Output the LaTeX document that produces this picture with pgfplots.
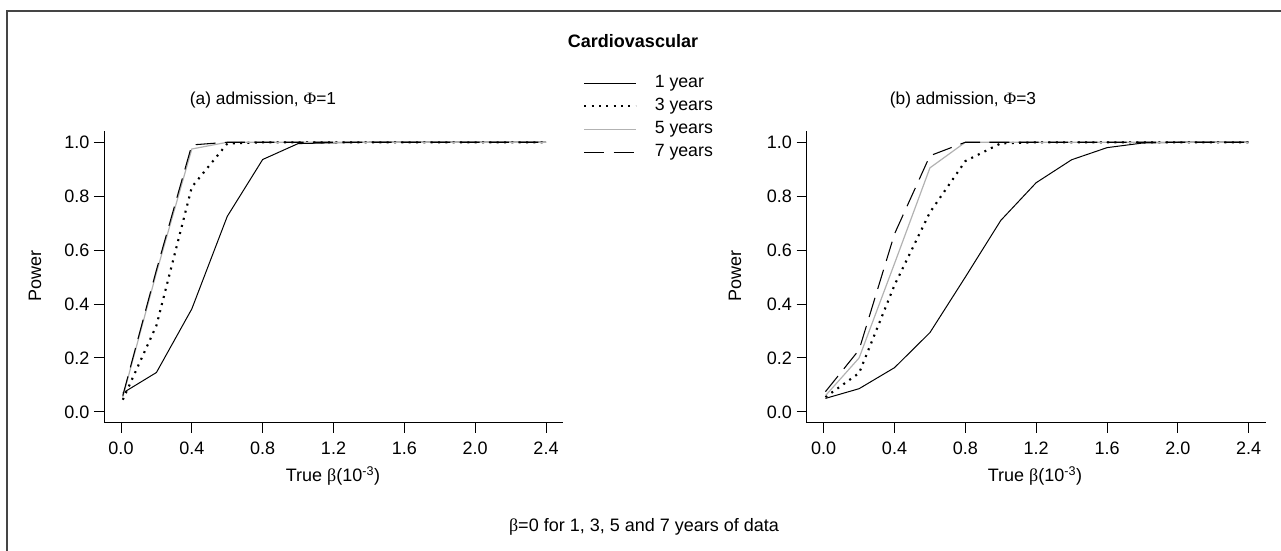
\documentclass[border=0pt]{standalone}
\usepackage{fontspec}
\setmainfont{Liberation Sans}
\newfontfamily\symfont{Liberation Serif}
\usepackage{pgfplots}
\pgfplotsset{compat=1.18}
\usepackage{pgfplotstable}

\pgfplotstableread{
x    y1     y3     y5     y7
0.01 0.070  0.045  0.055  0.060
0.2  0.146  0.320  0.516  0.526
0.4  0.382  0.834  0.975  0.990
0.6  0.725  0.995  1.000  1.000
0.8  0.936  1.000  1.000  1.000
1.0  0.995  1.000  1.000  1.000
1.2  0.998  1.000  1.000  1.000
1.4  1.000  1.000  1.000  1.000
1.6  1.000  1.000  1.000  1.000
1.8  1.000  1.000  1.000  1.000
2.0  1.000  1.000  1.000  1.000
2.2  1.000  1.000  1.000  1.000
2.4  1.000  1.000  1.000  1.000
}\dataA

\pgfplotstableread{
x    y1     y3     y5     y7
0.01 0.050  0.055  0.060  0.075
0.2  0.086  0.144  0.200  0.230
0.4  0.164  0.470  0.550  0.660
0.6  0.294  0.740  0.905  0.950
0.8  0.500  0.930  1.000  1.000
1.0  0.710  0.996  1.000  1.000
1.2  0.850  1.000  1.000  1.000
1.4  0.935  1.000  1.000  1.000
1.6  0.980  1.000  1.000  1.000
1.8  0.997  1.000  1.000  1.000
2.0  1.000  1.000  1.000  1.000
2.2  1.000  1.000  1.000  1.000
2.4  1.000  1.000  1.000  1.000
}\dataB

\definecolor{lgray}{gray}{0.70}
\definecolor{framegray}{gray}{0.27}

\pgfplotsset{
  panel/.style={
    scale only axis, width=344.25pt, height=218.4pt, anchor=south west,
    xmin=-0.096, xmax=2.496, ymin=-0.04, ymax=1.04,
    axis x line*=bottom, axis y line*=left,
    axis line style={line width=0.75pt,-},
    tick align=outside, major tick length=7.5pt,
    tick style={line width=0.75pt, black},
    xtick={0,0.4,0.8,1.2,1.6,2.0,2.4},
    xticklabels={0.0,0.4,0.8,1.2,1.6,2.0,2.4},
    ytick={0,0.2,0.4,0.6,0.8,1.0},
    yticklabels={0.0,0.2,0.4,0.6,0.8,1.0},
    tick label style={font=\fontsize{13.5pt}{16pt}\selectfont},
    xticklabel style={yshift=-3.2pt},
    /pgf/number format/assume math mode=true,
  },
  s1/.style={black, line width=0.75pt},
  s3/.style={black, line width=1.6pt, dash pattern=on 1.5pt off 4pt},
  s5/.style={lgray, line width=0.9pt},
  s7/.style={black, line width=0.8pt, dash pattern=on 15pt off 7pt},
}

\begin{document}
\begin{tikzpicture}[font=\fontsize{13.5pt}{16pt}\selectfont]
\useasboundingbox (0,0) rectangle (960.75pt,412.5pt);
\draw[framegray, line width=1.1pt] (5.25pt,-1pt) -- (5.25pt,404.25pt) -- (962pt,404.25pt);

\begin{axis}[panel, at={(78pt,95.5pt)},
  legend style={at={(1.0436,1.195)}, anchor=north west, draw=none, fill=none,
    inner sep=0pt, row sep=4.75pt, column sep=13.5pt,
    nodes={inner sep=0pt, text height=9.5pt, text depth=3pt, anchor=west},
    font=\fontsize{13.3pt}{16pt}\selectfont},
  legend cell align=left,
  legend image code/.code={\draw[#1] (0pt,0pt) -- (38.5pt,0pt);},
]
\addplot[s1] table[x=x,y=y1] {\dataA};
\addlegendentry{1 year}
\addplot[s3] table[x=x,y=y3] {\dataA};
\addlegendentry{3 years}
\addplot[s5] table[x=x,y=y5] {\dataA};
\addlegendentry{5 years}
\addplot[s7] table[x=x,y=y7] {\dataA};
\addlegendentry{7 years}
\end{axis}

\begin{axis}[panel, at={(605pt,95.5pt)}]
\addplot[s1] table[x=x,y=y1] {\dataB};
\addplot[s3] table[x=x,y=y3] {\dataB};
\addplot[s5] table[x=x,y=y5] {\dataB};
\addplot[s7] table[x=x,y=y7] {\dataB};
\end{axis}

\node[font=\fontsize{13.5pt}{16pt}\selectfont\bfseries] at (474.75pt,381.75pt) {Cardiovascular};
\node[font=\fontsize{13pt}{15pt}\selectfont] at (197.25pt,337.5pt) {(a) admission, {\symfont Φ}=1};
\node[font=\fontsize{13pt}{15pt}\selectfont] at (722.25pt,337.5pt) {(b) admission, {\symfont Φ}=3};
\node[rotate=90] at (26.25pt,205.5pt) {Power};
\node[rotate=90] at (551.25pt,205.5pt) {Power};
\node at (249.75pt,55.5pt) {True {\symfont β}(10\textsuperscript{-3})};
\node at (776.25pt,55.5pt) {True {\symfont β}(10\textsuperscript{-3})};
\node at (483pt,17pt) {{\symfont β}=0 for 1, 3, 5 and 7 years of data};
\end{tikzpicture}
\end{document}
